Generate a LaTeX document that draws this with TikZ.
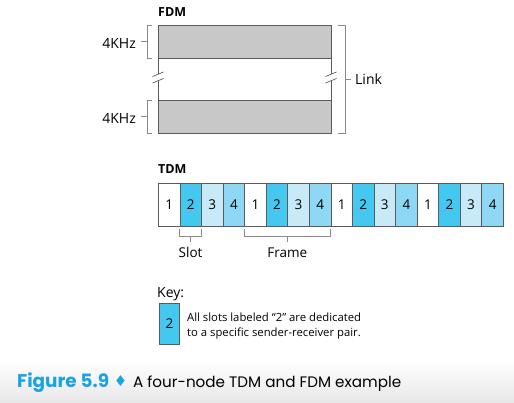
\documentclass[tikz,border=0pt]{standalone}
\usepackage{fontspec}
\setmainfont{Open Sans}
\newfontfamily\capfont{Poppins}
\newfontfamily\symfont{DejaVu Sans}
\usetikzlibrary{calc}
\definecolor{slotA}{HTML}{FFFFFF}
\definecolor{slotB}{HTML}{45C8F0}
\definecolor{slotC}{HTML}{C8EAF8}
\definecolor{slotD}{HTML}{8ED8F5}
\definecolor{bandgray}{HTML}{C8C8C8}
\definecolor{edgegray}{HTML}{5A5A5A}
\definecolor{brk}{HTML}{8A8A8A}
\definecolor{capblue}{HTML}{1AA3E0}
\tikzset{
  slotbox/.style={draw=edgegray, line width=0.8pt, minimum width=21.5625pt, minimum height=43pt, inner sep=0pt, anchor=north west, font=\fontsize{13.5}{15}\selectfont},
  band/.style={draw=edgegray, fill=bandgray, line width=0.8pt},
  brace/.style={draw=brk, line width=0.7pt},
  lbl/.style={inner sep=0pt, font=\fontsize{14}{16}\selectfont},
  ttl/.style={inner sep=0pt, anchor=base west, font=\bfseries\fontsize{12.5}{14}\selectfont},
}
\begin{document}
\begin{tikzpicture}[x=1pt,y=-1pt]
\useasboundingbox (0,0) rectangle (514,402);
\shade[top color=white, bottom color=black!9] (0,360) rectangle (514,402);
% FDM
\node[ttl] (fdm) at (158,16) {FDM};
\draw[band] (158,25) rectangle (331,58);
\draw[band] (158,100) rectangle (331,133);
\foreach \xx/\nm in {158/l,331/r}{
  \draw[edgegray, line width=0.8pt] (\xx,58) -- (\xx,73.5);
  \draw[edgegray, line width=0.8pt] (\xx,80.5) -- (\xx,100);
  \draw[edgegray, line width=0.7pt] (\xx-5.5,76.5) -- (\xx+5.5,72);
  \draw[edgegray, line width=0.7pt] (\xx-5.5,83) -- (\xx+5.5,78.5);
}
% left brackets
\draw[brace] (152,25) -- (147,25) -- (147,58) -- (152,58);
\draw[brace] (147,41.5) -- (141,41.5);
\node[lbl, anchor=east] (k1) at (136,43) {4KHz};
\draw[brace] (152,100) -- (147,100) -- (147,133) -- (152,133);
\draw[brace] (147,116.5) -- (141,116.5);
\node[lbl, anchor=east] (k2) at (136,118) {4KHz};
% right bracket
\draw[brace] (338,25) -- (345,25) -- (345,133) -- (338,133);
\draw[brace] (345,79) -- (351,79);
\node[lbl, anchor=west] (link) at (355,79.5) {Link};
% TDM
\node[ttl] (tdm) at (158,173) {TDM};
\foreach \i in {0,...,3}{
  \node[slotbox, fill=slotA] (s\i a) at (158+86.25*\i,183) {1};
  \node[slotbox, fill=slotB] (s\i b) at (158+86.25*\i+21.5625,183) {2};
  \node[slotbox, fill=slotC] (s\i c) at (158+86.25*\i+43.125,183) {3};
  \node[slotbox, fill=slotD] (s\i d) at (158+86.25*\i+64.6875,183) {4};
}
% slot bracket
\draw[brace] (179.6,229) -- (179.6,236) -- (201.7,236) -- (201.7,229);
\draw[brace] (190.6,236) -- (190.6,242);
\node[lbl, anchor=base, font=\fontsize{13.5}{15}\selectfont] (slot) at (190.6,257) {Slot};
\draw[brace] (244.3,229) -- (244.3,236) -- (330.5,236) -- (330.5,229);
\draw[brace] (287.4,236) -- (287.4,242);
\node[lbl, anchor=base, font=\fontsize{13.5}{15}\selectfont] (frame) at (287.4,257) {Frame};
% key
\node[inner sep=0pt, anchor=base west, font=\fontsize{14}{16}\selectfont] (key) at (157,297) {Key:};
\node[draw=edgegray, line width=0.8pt, fill=slotB, minimum width=20pt, minimum height=41pt, inner sep=0pt, anchor=north west, font=\fontsize{13.5}{15}\selectfont] (kb) at (159,303) {2};
\node[anchor=base west, inner sep=0pt, align=left, font=\fontsize{11.3}{15}\selectfont] (kt) at (187,336) {All slots labeled “2” are dedicated\\to a specific sender-receiver pair.};
% caption
\node[anchor=base west, inner sep=0pt, text=capblue, font=\capfont\bfseries\fontsize{18.4}{20}\selectfont] (fig) at (17,387) {Figure 5.9};
\node[anchor=center, inner sep=0pt, text=capblue, font=\symfont\fontsize{15}{17}\selectfont] (dia) at (120.5,381) {♦};
\node[anchor=base west, inner sep=0pt, font=\capfont\fontsize{15.2}{18}\selectfont] (cap) at (133,387) {A four-node TDM and FDM example};
\end{tikzpicture}
\end{document}
